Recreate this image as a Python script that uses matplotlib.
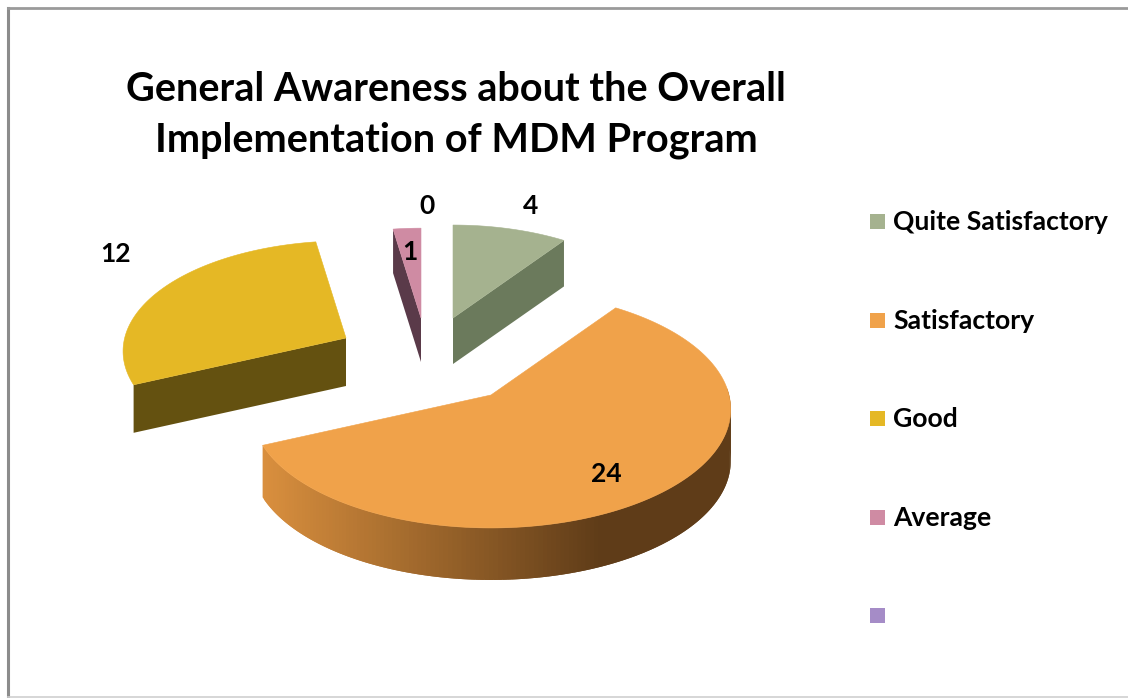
import numpy as np
import matplotlib
matplotlib.use('Agg')
import matplotlib.pyplot as plt
from matplotlib.patches import Polygon, Rectangle
from matplotlib.colors import to_rgb

plt.rcParams['font.family'] = ['Lato', 'DejaVu Sans']

categories = ['Quite Satisfactory', 'Satisfactory', 'Good', 'Average', '']
values = [4, 24, 12, 1, 0]
top_colors = ['#a5b28f', '#f0a24a', '#e5b825', '#cf8ba3', '#a58cc7']
wall_colors = ['#6b7a5c', '#f0a24a', '#645110', '#5a3a49', '#5a4a75']

# pie layout: apex of each slice in pixels, and its scale
apex_x = [453, 491, 346, 421, 421]
apex_y = [318, 395, 338, 318, 318]
scales = [0.89, 1.0, 0.93, 0.86, 0.86]
depths = [46, 52, 48, 44, 44]
R_X, R_Y, PERSP = 238, 117, 0.12


def project(ang, scale, x0, y0):
    # angle is clockwise from twelve o'clock
    u, v = np.sin(ang), np.cos(ang)
    s = scale / (1 + PERSP * v)
    return x0 + R_X * u * s, y0 - R_Y * v * s


def wall(ax, p0, p1, depth, color, z=2):
    ax.add_patch(Polygon([p0, p1, (p1[0], p1[1] + depth), (p0[0], p0[1] + depth)],
                         closed=True, fc=color, ec='none', zorder=z))


fig = plt.figure(figsize=(11.28, 6.98), dpi=100)
ax = fig.add_axes([0, 0, 1, 1])
ax.set_xlim(0, 1128)
ax.set_ylim(698, 0)
ax.axis('off')

# frame
ax.plot([8, 8], [698, 8], color='#8c8c8c', lw=2.2, zorder=1)
ax.plot([8, 1128], [8, 8], color='#9a9a9a', lw=2.0, zorder=1)
ax.plot([8, 1128], [697, 697], color='#cfcfcf', lw=1.2, zorder=1)

ax.text(456, 115, 'General Awareness about the Overall\nImplementation of MDM Program',
        ha='center', va='center', fontsize=28.5, fontweight='bold', color='black',
        linespacing=1.45)

fractions = np.array(values) / sum(values)
edges = np.concatenate([[0], np.cumsum(fractions)]) * 2 * np.pi

for i in [0, 3, 2, 1]:
    a0, a1 = edges[i], edges[i + 1]
    n = max(int((a1 - a0) * 60), 4)
    angs = np.linspace(a0, a1, n)
    xs, ys = project(angs, scales[i], apex_x[i], apex_y[i])
    apex = (apex_x[i], apex_y[i])
    depth = depths[i]

    # radial walls, only where they face the viewer
    cx, cy = np.mean(xs), np.mean(ys)
    for p in [(xs[0], ys[0]), (xs[-1], ys[-1])]:
        dx, dy = p[0] - apex[0], p[1] - apex[1]
        nx, ny = -dy, dx
        if nx * (cx - apex[0]) + ny * (cy - apex[1]) > 0:
            nx, ny = -nx, -ny
        if ny > 0:
            wall(ax, apex, p, depth, wall_colors[i])

    # rim, only the big slice shows it
    if i == 1:
        c0 = np.array(to_rgb('#d98f3e'))
        c1 = np.array(to_rgb('#5f3c18'))
        for j in range(n - 2):
            if np.cos(angs[j]) > 0.05 and np.cos(angs[j + 2]) > 0.05:
                continue
            t = (xs[j] - 265) / (733 - 265)
            col = c0 + (c1 - c0) * min(t / 0.72, 1.0)
            # overlap the next step so no seams show
            wall(ax, (xs[j], ys[j]), (xs[j + 2], ys[j + 2]), depth, col)

    ax.add_patch(Polygon(np.column_stack([np.r_[apex[0], xs], np.r_[apex[1], ys]]),
                         closed=True, fc=top_colors[i], ec=top_colors[i], lw=0.4, zorder=3))

# data labels
label_x = [531, 606, 116, 410, 427]
label_y = [206, 474, 254, 252, 206]
for v, lx, ly in zip(values, label_x, label_y):
    ax.text(lx, ly, str(v), ha='center', va='center', fontsize=19, fontweight='bold',
            color='black', zorder=5)

# legend
legend_y = [221, 320, 418, 517, 615]
for name, col, ly in zip(categories, top_colors, legend_y):
    ax.add_patch(Rectangle((870, ly - 7), 15, 15, fc=col, ec='none', zorder=4))
    ax.text(893, ly + 1, name, ha='left', va='center', fontsize=19.1, fontweight='bold', color='black')

fig.savefig('out.png', dpi=100)
